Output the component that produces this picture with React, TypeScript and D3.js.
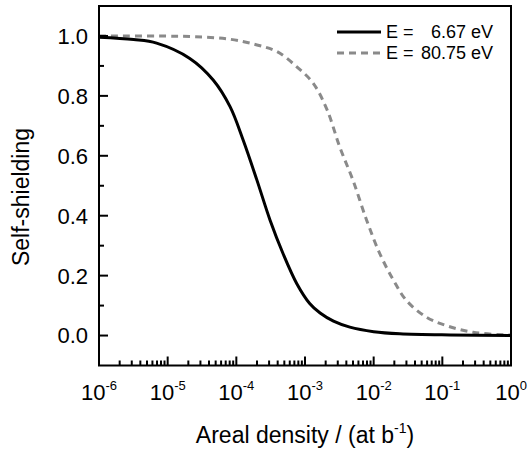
import React from "react";
import * as d3 from "d3";

// Areal density (at/b) sample points
const densityLow = [1e-6, 3.2e-6, 6.9e-6, 2.1e-5, 4.6e-5, 8.1e-5, 1.26e-4, 2.0e-4, 3.1e-4, 4.8e-4, 7.6e-4, 1.17e-3, 1.66e-3, 2.6e-3, 4.5e-3, 1.0e-2, 2.4e-2, 0.13, 1];
const shieldLow = [0.996, 0.988, 0.976, 0.925, 0.853, 0.764, 0.652, 0.518, 0.385, 0.273, 0.173, 0.107, 0.075, 0.048, 0.028, 0.013, 0.006, 0.002, 0.0003];

const densityHigh = [1e-6, 2.1e-5, 8.1e-5, 2.0e-4, 3.9e-4, 7.6e-4, 1.32e-3, 2.1e-3, 3.2e-3, 5.0e-3, 7.9e-3, 1.23e-2, 1.95e-2, 3.0e-2, 5.9e-2, 0.115, 0.28, 0.87, 1];
const shieldHigh = [1.0, 0.998, 0.989, 0.970, 0.948, 0.897, 0.842, 0.753, 0.630, 0.518, 0.385, 0.273, 0.184, 0.117, 0.061, 0.033, 0.011, 0.002, 0.002];

const yTickValues = [0.0, 0.2, 0.4, 0.6, 0.8, 1.0];
const yMinorValues = [0.1, 0.3, 0.5, 0.7, 0.9];
const legendLabels = ["E =", "E ="];
const legendValues = ["6.67 eV", "80.75 eV"];

const W = 528;
const H = 455;
const left = 99;
const right = 511;
const top = 6;
const bottom = 365.5;
const FONT = "'Liberation Sans', Arial, sans-serif";

export default function App() {
  const x = d3.scaleLog().domain([1e-6, 1]).range([left, right]);
  const y = d3.scaleLinear().domain([-0.1, 1.1]).range([bottom, top]);

  const line = d3
    .line<[number, number]>()
    .x((d) => x(d[0]))
    .y((d) => y(d[1]))
    .curve(d3.curveCatmullRom.alpha(0.5));

  const lowPts = densityLow.map((d, i) => [d, shieldLow[i]] as [number, number]);
  const highPts = densityHigh.map((d, i) => [d, shieldHigh[i]] as [number, number]);

  const xTicks = x.ticks();
  const isMajor = (v: number) => Math.abs(Math.log10(v) - Math.round(Math.log10(v))) < 1e-9;
  const majors = xTicks.filter(isMajor);

  return (
    <svg
      width={W}
      height={H}
      style={{ position: "absolute", left: 0, top: 0, background: "#fff" }}
      fontFamily={FONT}
    >
      <defs>
        <clipPath id="plotclip">
          <rect x={left} y={top} width={right - left} height={bottom - top} />
        </clipPath>
      </defs>

      {/* curves */}
      <g clipPath="url(#plotclip)">
        <path
          d={line(highPts) || ""}
          fill="none"
          stroke="#8a8a8a"
          strokeWidth={3}
          strokeDasharray="7,5"
        />
        <path d={line(lowPts) || ""} fill="none" stroke="#000" strokeWidth={3} />
      </g>

      {/* x ticks */}
      {xTicks.map((v, i) => (
        <line
          key={"xt" + i}
          x1={x(v)}
          x2={x(v)}
          y1={bottom}
          y2={bottom - (isMajor(v) ? 9 : 5)}
          stroke="#000"
          strokeWidth={2}
        />
      ))}
      {majors.map((v, i) => (
        <text key={"xl" + i} x={x(v)} y={400} fontSize={22} textAnchor="middle" fill="#000">
          10
          <tspan fontSize={13} dy={-10}>
            {String(Math.round(Math.log10(v)))}
          </tspan>
        </text>
      ))}

      {/* y ticks */}
      {yTickValues.map((v, i) => (
        <g key={"yt" + i}>
          <line x1={left} x2={left + 9} y1={y(v)} y2={y(v)} stroke="#000" strokeWidth={2} />
          <text
            x={88}
            y={y(v)}
            dy="0.36em"
            fontSize={22}
            textAnchor="end"
            fill="#000"
          >
            {d3.format(".1f")(v)}
          </text>
        </g>
      ))}
      {yMinorValues.map((v, i) => (
        <line key={"ym" + i} x1={left} x2={left + 5} y1={y(v)} y2={y(v)} stroke="#000" strokeWidth={2} />
      ))}

      {/* frame */}
      <rect
        x={left}
        y={top}
        width={right - left}
        height={bottom - top}
        fill="none"
        stroke="#000"
        strokeWidth={2}
      />

      {/* axis titles */}
      <text x={305} y={443} fontSize={23} textAnchor="middle" fill="#000">
        Areal density / (at b
        <tspan fontSize={14} dy={-10}>-1</tspan>
        <tspan dy={10}>)</tspan>
      </text>
      <text
        transform={`translate(29, ${197}) rotate(-90)`}
        fontSize={23}
        textAnchor="middle"
        fill="#000"
      >
        Self-shielding
      </text>

      {/* legend */}
      {legendValues.map((v, i) => {
        const ly = 32 + i * 21;
        return (
          <g key={"lg" + i}>
            <line
              x1={337}
              x2={381}
              y1={ly}
              y2={ly}
              stroke={i === 0 ? "#000" : "#8a8a8a"}
              strokeWidth={3}
              strokeDasharray={i === 0 ? undefined : "7,5"}
            />
            <text x={386} y={ly} dy="0.36em" fontSize={18} fill="#000">
              {legendLabels[i]}
            </text>
            <text x={493} y={ly} dy="0.36em" fontSize={18} textAnchor="end" fill="#000">
              {v}
            </text>
          </g>
        );
      })}
    </svg>
  );
}
